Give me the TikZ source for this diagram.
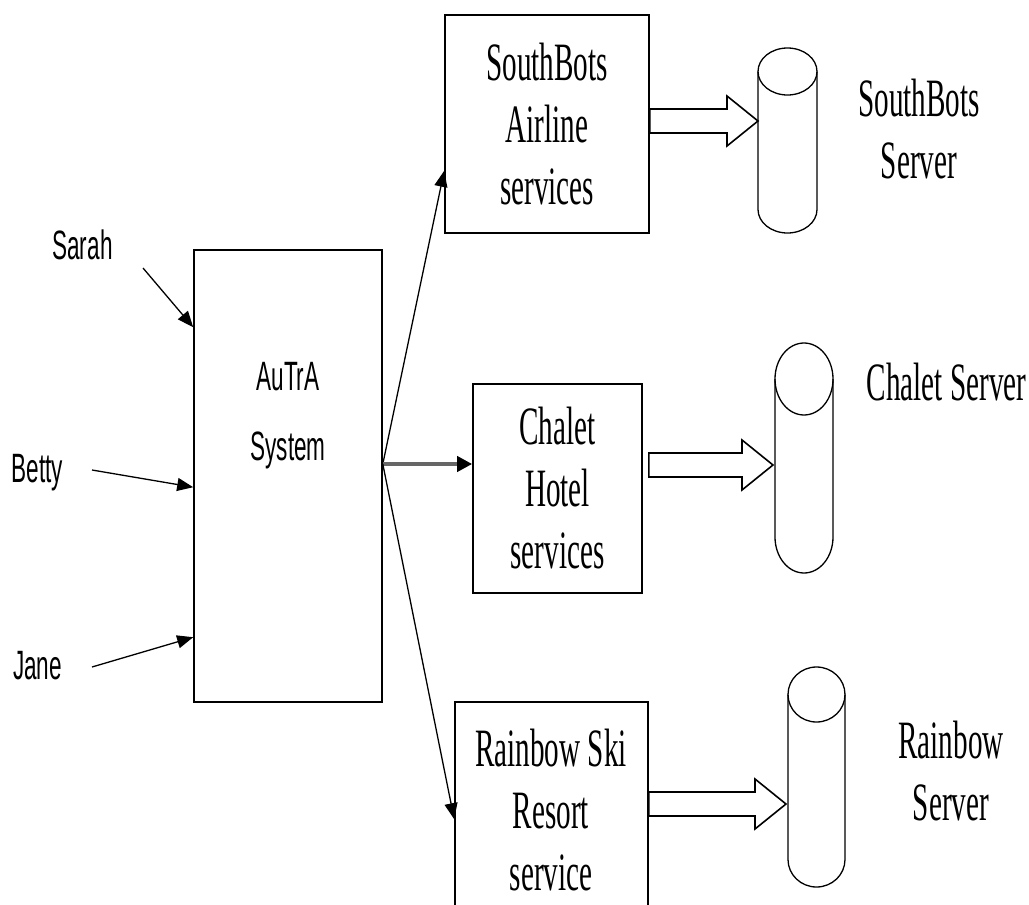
\documentclass[tikz,border=0pt]{standalone}
\usepackage{fontspec}
\newfontfamily\serifnarrow[FakeStretch=0.54]{Liberation Serif}
\newfontfamily\sansnarrow[FakeStretch=0.55]{Liberation Sans}
\usetikzlibrary{arrows.meta,calc}

\tikzset{
  box/.style={draw, line width=1.6pt, inner sep=0pt},
  srvtext/.style={font=\serifnarrow\fontsize{54}{62}\selectfont, align=center, inner sep=0pt},
  usertext/.style={font=\sansnarrow\fontsize{41}{70}\selectfont, align=center, inner sep=0pt},
  flow/.style={line width=1.3pt, -{Triangle[length=16pt,width=13pt]}},
  mainflow/.style={line width=4pt, draw=black!60, -{Triangle[length=15pt,width=15pt,black]}},
  hollow/.style={draw, line width=1.6pt, fill=white, line join=miter},
  cyl/.style={draw, line width=1.3pt},
}

% server drum: centre x, top y, bottom y, x radius, y radius
\newcommand\drumcyl[5]{%
  \draw[cyl] (#1-#4, #2+#5) -- (#1-#4, #3-#5)
    .. controls ({#1-#4}, {#3-#5+0.552*#5}) and ({#1-0.552*#4}, #3) .. (#1, #3)
    .. controls ({#1+0.552*#4}, #3) and ({#1+#4}, {#3-#5+0.552*#5}) .. (#1+#4, #3-#5)
    -- (#1+#4, #2+#5);
  \draw[cyl] (#1, #2+#5) ellipse [x radius=#4, y radius=#5];
}

% block arrow from a start coordinate to a tip coordinate
\newcommand\fatarrow[2]{%
  \draw[hollow] ($(#1)+(0,-12)$) -- ($(#2)+(-31,-12)$) -- ($(#2)+(-31,-25)$)
    -- (#2) -- ($(#2)+(-31,25)$) -- ($(#2)+(-31,12)$) -- ($(#1)+(0,12)$) -- cycle;
}

\begin{document}
\begin{tikzpicture}[x=1pt, y=-1pt]
  \useasboundingbox (0,0) rectangle (1029,905);
  \clip (0,0) rectangle (1029,905);
  \fill[white] (0,0) rectangle (1029,905);

  % users
  \node[usertext, anchor=base] (sarah) at (82.5,259.5) {Sarah};
  \node[usertext, anchor=base] (betty) at (37.5,482.5) {Betty};
  \node[usertext, anchor=base] (jane)  at (37.5,679.5) {Jane};

  % central system
  \node[box, minimum width=188, minimum height=452] (autra) at (288,476) {};
  \node[usertext] (autralbl) at (288,416) {AuTrA\\System};

  % service providers
  \node[box, minimum width=204, minimum height=218, srvtext] (sb) at (547,124)
    {SouthBots\\Airline\\services};
  \node[box, minimum width=169, minimum height=209, srvtext] (ch) at (557.5,488.5)
    {Chalet\\Hotel\\services};
  \node[box, minimum width=193, minimum height=260] (rb) at (551.5,832) {};
  \node[srvtext] (rblbl) at (551,810) {Rainbow Ski\\Resort\\service};

  % servers
  \drumcyl{787.5}{48}{233}{29.5}{23.5}
  \drumcyl{804}{343}{573}{29}{36}
  \drumcyl{816.5}{667}{887}{28.5}{27.5}
  \node[srvtext] (sbsrv) at (919,129) {SouthBots\\Server};
  \node[srvtext, anchor=base] (chsrv) at (946.5,400) {Chalet Server};
  \node[srvtext] (rbsrv) at (951,771.5) {Rainbow\\Server};

  % user requests
  \coordinate (sarahfrom) at (143,268);
  \coordinate (bettyfrom) at (92,470);
  \coordinate (janefrom)  at (92,667);
  \draw[flow] (sarahfrom) -- ($(autra.north west)+(0,78)$);
  \draw[flow] (bettyfrom) -- ($(autra.north west)+(0,238)$);
  \draw[flow] (janefrom)  -- ($(autra.north west)+(0,388)$);

  % dispatch to providers
  \coordinate (hub) at ($(autra.east)+(0,-12)$);
  \draw[flow] (hub) -- ($(sb.south west)+(0,-63)$);
  \draw[mainflow] (hub) -- (ch.west |- hub);
  \draw[flow] (hub) -- ($(rb.north west)+(0,118)$);

  % provider to server links
  \coordinate (in1) at (758,121);
  \coordinate (in2) at (773,465);
  \coordinate (in3) at (786,804);
  \coordinate (out1) at (sb.east |- in1);
  \coordinate (out2) at ($(ch.east |- in2)+(6,0)$);
  \coordinate (out3) at (rb.east |- in3);
  \fatarrow{out1}{in1}
  \fatarrow{out2}{in2}
  \fatarrow{out3}{in3}
\end{tikzpicture}
\end{document}
